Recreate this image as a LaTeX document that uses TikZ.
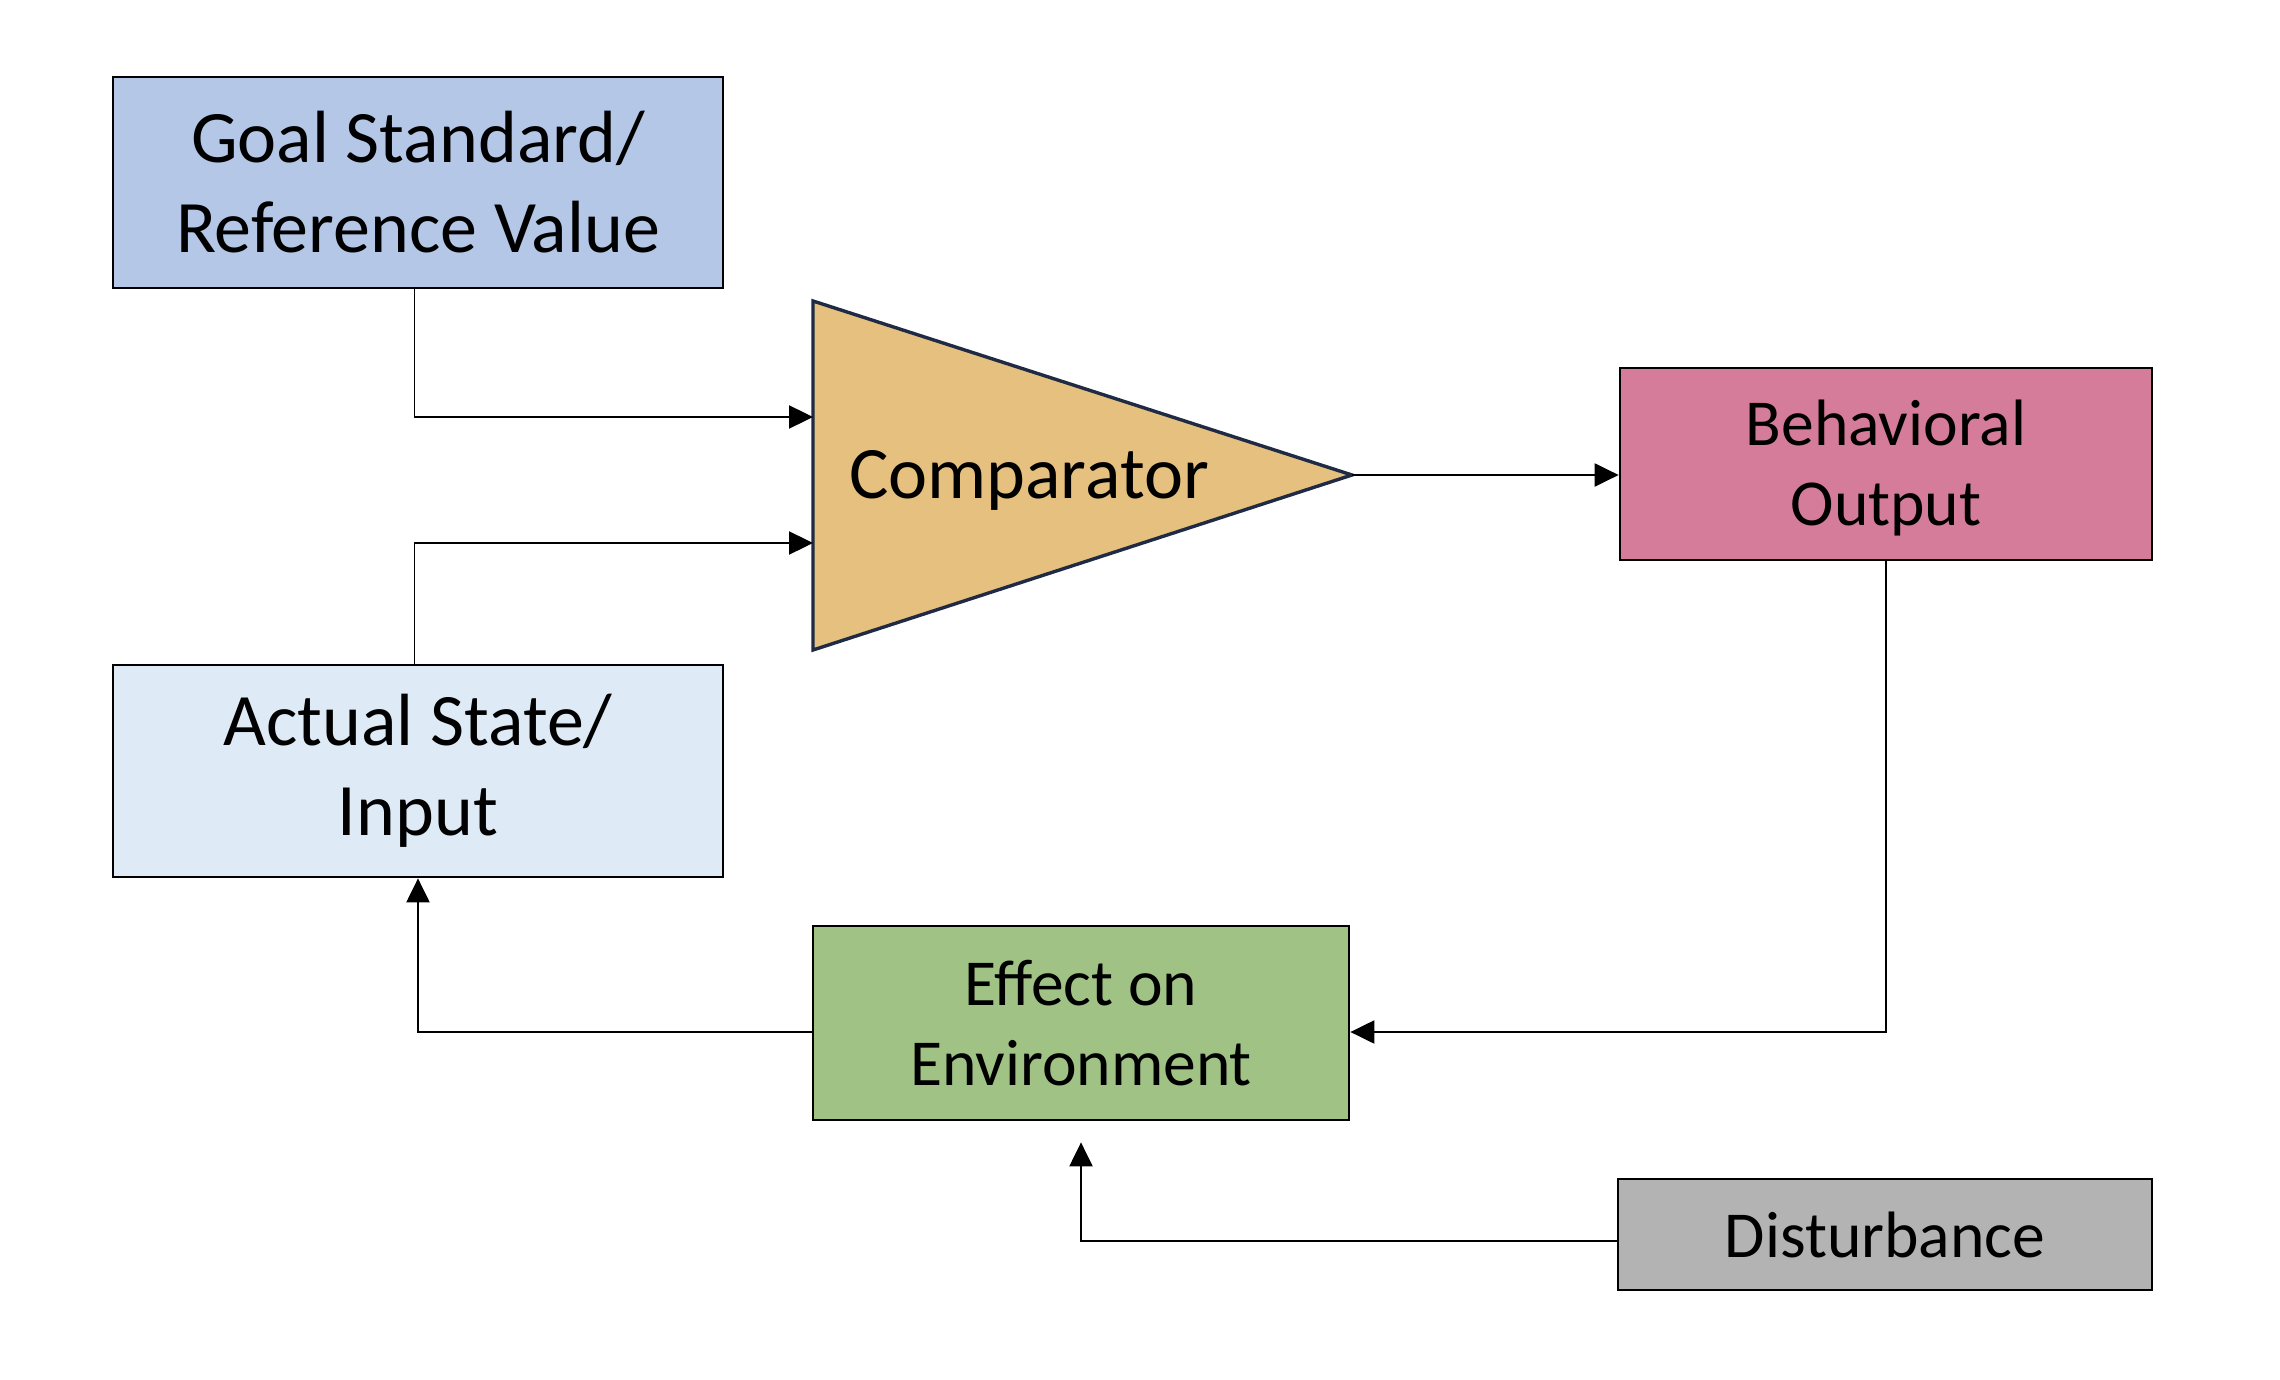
\documentclass[tikz,border=0pt]{standalone}
\usepackage{fontspec}
\setmainfont{Carlito}
\usetikzlibrary{arrows.meta}
\definecolor{goalc}{HTML}{B4C7E7}
\definecolor{actc}{HTML}{DEEBF7}
\definecolor{compc}{HTML}{E6C07E}
\definecolor{behc}{HTML}{D47C99}
\definecolor{effc}{HTML}{A0C285}
\definecolor{distc}{HTML}{B3B3B3}
\definecolor{navy}{HTML}{1F2A44}
\begin{document}
\begin{tikzpicture}[x=0.25pt,y=-0.25pt,
 box/.style={draw=black, line width=0.7pt, inner sep=0pt, align=center, text=black},
 bigtxt/.style={font=\fontsize{18.5}{22.5}\selectfont},
 smalltxt/.style={font=\fontsize{16.4}{20}\selectfont},
 conn/.style={line width=0.4pt, -{Triangle[length=6pt,width=5.8pt]}}]
\useasboundingbox (0,0) rectangle (2280,1380);
% nodes
\node[box, bigtxt, fill=goalc, minimum width=152.5pt, minimum height=52.75pt] (goal) at (418,182.5) {Goal Standard/\\Reference Value};
\node[box, bigtxt, fill=actc, minimum width=152.5pt, minimum height=53pt] (act) at (418,771) {Actual State/\\Input};
\node[box, smalltxt, fill=behc, minimum width=133pt, minimum height=48pt] (beh) at (1886,464) {};
\node[smalltxt, align=center, inner sep=0pt] (behtxt) at (1886,468) {Behavioral\\Output};
\node[box, smalltxt, fill=effc, minimum width=134pt, minimum height=48.5pt] (eff) at (1081,1023) {Effect on\\Environment};
\node[box, smalltxt, fill=distc, minimum width=133.5pt, minimum height=27.75pt] (dist) at (1885,1234.5) {Disturbance};
% comparator
\draw[fill=compc, draw=navy, line width=0.85pt, line join=miter] (813,301) -- (1352,475) -- (813,650) -- cycle;
\node[bigtxt, inner sep=0pt] (comp) at (1029,480) {Comparator};
\coordinate (cin1) at (813,417);
\coordinate (cin2) at (813,543);
\coordinate (ctip) at (1352,475);
% connectors
\draw[conn] ([xshift=-0.9pt]goal.south) |- (cin1);
\draw[conn] ([xshift=-0.9pt]act.north) |- (cin2);
\draw[conn] (ctip) -- (ctip -| beh.west);
\draw[conn] (beh.south) |- ([yshift=-2.25pt]eff.east);
\draw[conn] ([yshift=-2.25pt]eff.west) -| (act.south);
\draw[conn] ([yshift=-1.6pt]dist.west) -| ([yshift=-5.25pt]eff.south);
\end{tikzpicture}
\end{document}
